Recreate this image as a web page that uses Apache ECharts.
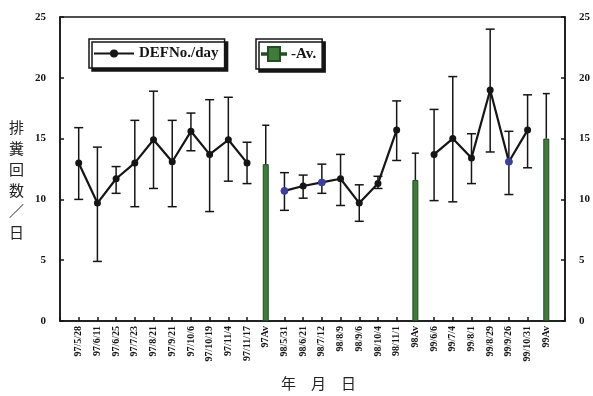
<!DOCTYPE html>
<html>
<head>
<meta charset="utf-8">
<script src="https://cdn.jsdelivr.net/npm/echarts@6/dist/echarts.min.js"></script>
<style>
  html, body { margin: 0; padding: 0; background: #fff; }
  #chart { width: 593px; height: 396px; }
</style>
</head>
<body>
<div id="chart"></div>
<script>
// 調査日
var categories = ['97/5/28', '97/6/11', '97/6/25', '97/7/23', '97/8/21', '97/9/21', '97/10/6', '97/10/19',
  '97/11/4', '97/11/17', '97Av', '98/5/31', '98/6/21', '98/7/12', '98/8/9', '98/9/6', '98/10/4',
  '98/11/1', '98Av', '99/6/6', '99/7/4', '99/8/1', '99/8/29', '99/9/26', '99/10/31', '99Av'];

// 排糞回数／日 (平均・上限・下限), Av の位置は null
var dayMean = [13.0, 9.7, 11.7, 13.0, 14.9, 13.1, 15.6, 13.7, 14.9, 13.0, null,
  10.7, 11.1, 11.4, 11.7, 9.7, 11.3, 15.7, null,
  13.7, 15.0, 13.4, 19.0, 13.1, 15.7, null];
var dayHigh = [15.9, 14.3, 12.7, 16.5, 18.9, 16.5, 17.1, 18.2, 18.4, 14.7, null,
  12.2, 12.0, 12.9, 13.7, 11.2, 11.9, 18.1, null,
  17.4, 20.1, 15.4, 24.0, 15.6, 18.6, null];
var dayLow = [10.0, 4.9, 10.5, 9.4, 10.9, 9.4, 14.0, 9.0, 11.5, 11.3, null,
  9.1, 10.1, 10.5, 9.5, 8.2, 10.9, 13.2, null,
  9.9, 9.8, 11.3, 13.9, 10.4, 12.6, null];

// 年平均 (Av) と上限
var avLabels = ['97Av', '98Av', '99Av'];
var avMean = [12.9, 11.6, 15.0];
var avHigh = [16.1, 13.8, 18.7];

// 青い点
var bluePoints = ['98/5/31', '98/7/12', '99/9/26'];

var yTicks = [0, 5, 10, 15, 20, 25];

var serif = 'Liberation Serif';

// 両端に空きを作る
var xData = [''].concat(categories, ['']);

var lineData = [null];
categories.forEach(function (c, i) {
  var v = dayMean[i];
  if (v === null) {
    lineData.push(null);
  } else if (bluePoints.indexOf(c) >= 0) {
    lineData.push({ value: v, itemStyle: { color: '#3b3f9e', borderColor: '#3b3f9e' } });
  } else {
    lineData.push(v);
  }
});
lineData.push(null);

var barData = xData.map(function (c) {
  var k = avLabels.indexOf(c);
  return k >= 0 ? avMean[k] : null;
});

var errData = [];
categories.forEach(function (c, i) {
  if (dayMean[i] !== null) errData.push([c, dayLow[i], dayHigh[i], 1]);
});
avLabels.forEach(function (c, k) {
  errData.push([c, avMean[k], avHigh[k], 0]);
});

function renderErr(params, api) {
  var x = api.value(0);
  var lo = api.coord([x, api.value(1)]);
  var hi = api.coord([x, api.value(2)]);
  var cap = api.value(3) ? 4.5 : 3.5;
  var style = { stroke: '#151515', lineWidth: 1.5, fill: null };
  var children = [
    { type: 'line', shape: { x1: lo[0], y1: lo[1], x2: hi[0], y2: hi[1] }, style: style },
    { type: 'line', shape: { x1: hi[0] - cap, y1: hi[1], x2: hi[0] + cap, y2: hi[1] }, style: style }
  ];
  if (api.value(3)) {
    children.push({ type: 'line', shape: { x1: lo[0] - cap, y1: lo[1], x2: lo[0] + cap, y2: lo[1] }, style: style });
  }
  return { type: 'group', children: children };
}

var axisLineStyle = { color: '#151515', width: 1.5 };
var tickLabel = { fontFamily: serif, fontWeight: 'bold', fontSize: 11, color: '#151515' };

var chart = echarts.init(document.getElementById('chart'), null, { renderer: 'canvas' });

chart.setOption({
  backgroundColor: '#fff',
  animation: false,
  grid: {
    left: 60, right: 27, top: 17, bottom: 75,
    show: true, borderColor: '#151515', borderWidth: 1.5, backgroundColor: 'transparent'
  },
  legend: [{
    left: 89, top: 39,
    data: ['DEFNo./day'],
    itemWidth: 40, itemHeight: 10, itemGap: 4,
    padding: [7, 6, 7, 4],
    backgroundColor: '#fff', borderColor: '#151515', borderWidth: 1.5,
    shadowColor: '#151515', shadowBlur: 0, shadowOffsetX: 3, shadowOffsetY: 3,
    textStyle: { fontFamily: serif, fontWeight: 'bold', fontSize: 15, color: '#151515' },
    selectedMode: false
  }, {
    left: 256, top: 39,
    data: ['-Av.'],
    itemWidth: 24, itemHeight: 14, itemGap: 2,
    icon: 'path://M0,9.3H6V3H18V9.3H24V10.7H18V17H6V10.7H0Z',
    padding: [7, 6, 7, 5],
    backgroundColor: '#fff', borderColor: '#151515', borderWidth: 1.5,
    shadowColor: '#151515', shadowBlur: 0, shadowOffsetX: 3, shadowOffsetY: 3,
    textStyle: { fontFamily: serif, fontWeight: 'bold', fontSize: 15, color: '#151515' },
    selectedMode: false
  }],
  xAxis: {
    type: 'category',
    data: xData,
    boundaryGap: false,
    axisLine: { lineStyle: axisLineStyle },
    axisTick: { show: true, inside: true, length: 4, interval: 0, lineStyle: { color: '#151515', width: 1.5 } },
    axisLabel: {
      interval: 0, rotate: 90, margin: 5,
      fontFamily: serif, fontWeight: 'bold', fontSize: 10, color: '#151515'
    },
    splitLine: { show: false }
  },
  yAxis: [{
    type: 'value', min: yTicks[0], max: yTicks[yTicks.length - 1], interval: 5,
    position: 'left',
    axisLine: { show: true, lineStyle: axisLineStyle },
    axisTick: { show: true, inside: true, length: 4, lineStyle: { color: '#151515', width: 1.5 } },
    axisLabel: Object.assign({ margin: 14 }, tickLabel),
    splitLine: { show: false }
  }, {
    type: 'value', min: yTicks[0], max: yTicks[yTicks.length - 1], interval: 5,
    position: 'right',
    axisLine: { show: true, lineStyle: axisLineStyle },
    axisTick: { show: true, inside: true, length: 4, lineStyle: { color: '#151515', width: 1.5 } },
    axisLabel: Object.assign({ margin: 14 }, tickLabel),
    splitLine: { show: false }
  }],
  graphic: [{
    type: 'text', left: 9, top: 117,
    style: {
      text: '排\n糞\n回\n数\n／\n日',
      font: '15px "Noto Sans CJK JP"', lineHeight: 21, fill: '#222', align: 'center'
    }
  }, {
    type: 'text', left: 281, top: 376,
    style: { text: '年　月　日', font: '15px "Noto Sans CJK JP"', fill: '#222' }
  }],
  series: [{
    name: '-Av.',
    type: 'bar',
    data: barData,
    barWidth: 6,
    z: 3,
    itemStyle: { color: '#3f7b3b', borderColor: '#234d22', borderWidth: 1 }
  }, {
    name: 'errbar',
    type: 'custom',
    renderItem: renderErr,
    data: errData,
    encode: { x: 0, y: [1, 2] },
    z: 2,
    silent: true
  }, {
    name: 'DEFNo./day',
    type: 'line',
    data: lineData,
    connectNulls: false,
    symbol: 'circle',
    symbolSize: 7,
    z: 4,
    lineStyle: { color: '#151515', width: 2.2 },
    itemStyle: { color: '#151515' }
  }]
});
</script>
</body>
</html>
